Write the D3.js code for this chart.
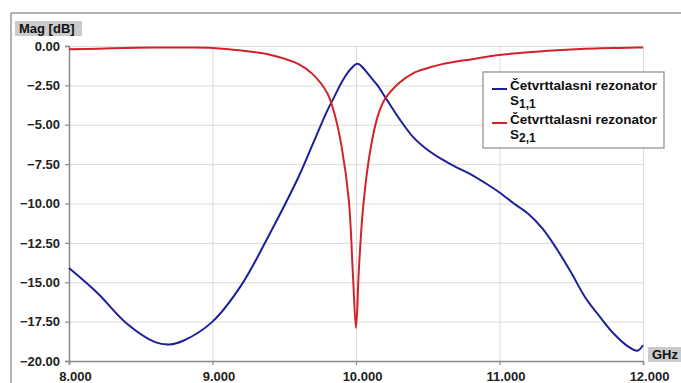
<!DOCTYPE html>
<html>
<head>
    <meta charset="utf-8">
    <title>S parametri - cetvrttalasni rezonator</title>
</head>
<body>
<style type="text/css">
    body {
        margin: 0;
        background: #fff;
    }

    #renderer {
        width: 681px;
        height: 383px;
        background: #FFF;
        display: block;
    }

    text {
        font-family: "Liberation Sans", Arial, sans-serif;
        font-weight: bold;
    }
</style>
<script type="text/javascript" src="https://cdnjs.cloudflare.com/ajax/libs/d3/7.8.5/d3.min.js"></script>
<svg id='renderer'></svg>

<script type="text/javascript">
    // frekvencije (GHz) i izmjereni S parametri (dB), ocitano sa slike
    var freq = [8.0, 8.2, 8.4, 8.6, 8.7, 8.8, 9.0, 9.2, 9.4, 9.6, 9.7, 9.8, 9.85, 9.9, 9.95, 9.98,
        10.0, 10.02, 10.05, 10.1, 10.15, 10.2, 10.3, 10.4, 10.5, 10.6, 10.7, 10.8, 10.9,
        11.0, 11.1, 11.2, 11.3, 11.4, 11.5, 11.6, 11.7, 11.8, 11.9, 11.96, 12.0];

    var s11 = [-14.1, -15.7, -17.6, -18.8, -18.95, -18.7, -17.5, -15.2, -11.9, -8.3, -6.2, -4.1, -3.2, -2.3, -1.6, -1.3,
        -1.15, -1.15, -1.4, -1.95, -2.5, -3.2, -4.6, -5.8, -6.6, -7.2, -7.7, -8.15, -8.7,
        -9.3, -10.0, -10.65, -11.6, -12.9, -14.4, -16.0, -17.2, -18.3, -19.1, -19.35, -19.0];

    var s21 = [-0.2, -0.17, -0.13, -0.1, -0.1, -0.1, -0.12, -0.28, -0.55, -1.15, -1.8, -3.0, -4.3, -6.4, -9.8, -14.8,
        -17.9, -14.2, -10.2, -6.6, -4.5, -3.4, -2.35, -1.72, -1.4, -1.15, -0.98, -0.85, -0.7,
        -0.57, -0.48, -0.4, -0.33, -0.27, -0.22, -0.18, -0.15, -0.13, -0.11, -0.1, -0.1];

    var xTicks = [8, 9, 10, 11, 12];
    var yTicks = [0, -2.5, -5, -7.5, -10, -12.5, -15, -17.5, -20];

    var seriesNames = ['Četvrttalasni rezonator', 'Četvrttalasni rezonator'];
    var seriesSubs = ['1,1', '2,1'];
    var seriesColors = ['#1f1f9e', '#d2232a'];

    var root = d3.select('#renderer');

    var totalWidth = 681;
    var totalHeight = 383;

    // granice podrucja grafa
    var plotLeft = 69;
    var plotRight = 643;
    var plotTop = 46;
    var plotBottom = 361;

    var x = d3.scaleLinear().domain([8, 12]).range([plotLeft, plotRight]);
    var y = d3.scaleLinear().domain([-20, 0]).range([plotBottom, plotTop]);

    // okvir oko cijele slike (gornja i lijeva ivica)
    root.append('line')
        .attr('x1', 11).attr('y1', 13)
        .attr('x2', totalWidth).attr('y2', 13)
        .attr('stroke', '#9a9a9a').attr('stroke-width', 1.5);
    root.append('line')
        .attr('x1', 11).attr('y1', 13)
        .attr('x2', 11).attr('y2', totalHeight)
        .attr('stroke', '#9a9a9a').attr('stroke-width', 1.5);

    // mreza
    root.append('g')
        .attr('transform', 'translate(0,' + plotBottom + ')')
        .call(d3.axisBottom(x).tickValues(xTicks).tickSize(-(plotBottom - plotTop)).tickFormat(''))
        .call(function (g) {
            g.select('.domain').remove();
            g.selectAll('line').attr('stroke', '#dcdcdc');
        });
    root.append('g')
        .attr('transform', 'translate(' + plotLeft + ',0)')
        .call(d3.axisLeft(y).tickValues(yTicks).tickSize(-(plotRight - plotLeft)).tickFormat(''))
        .call(function (g) {
            g.select('.domain').remove();
            g.selectAll('line').attr('stroke', '#dcdcdc');
        });

    // osi
    var yAxis = root.append('g')
        .attr('transform', 'translate(' + plotLeft + ',0)')
        .call(d3.axisLeft(y).tickValues(yTicks).tickSize(4).tickPadding(5).tickFormat(d3.format('.2f')));
    var xAxis = root.append('g')
        .attr('transform', 'translate(0,' + plotBottom + ')')
        .call(d3.axisBottom(x).tickValues(xTicks).tickSize(4).tickPadding(7).tickFormat(d3.format('.3f')));

    [xAxis, yAxis].forEach(function (ax) {
        ax.select('.domain').attr('stroke', '#8a8a8a').attr('stroke-width', 1.5);
        ax.selectAll('.tick line').attr('stroke', '#8a8a8a').attr('stroke-width', 1.2);
        ax.selectAll('text')
            .attr('font-size', 13)
            .attr('font-family', '"Liberation Sans", Arial, sans-serif')
            .attr('font-weight', 'bold')
            .attr('fill', '#222');
    });
    xAxis.selectAll('text').attr('x', 6);

    // natpisi osa na sivoj podlozi
    root.append('rect')
        .attr('x', 15).attr('y', 21)
        .attr('width', 67).attr('height', 15)
        .attr('fill', '#cbcbcb');
    root.append('text')
        .text('Mag [dB]')
        .attr('x', 19).attr('y', 33)
        .attr('font-size', 13)
        .attr('fill', '#111');

    root.append('rect')
        .attr('x', 648).attr('y', 347)
        .attr('width', 33).attr('height', 15)
        .attr('fill', '#cbcbcb');
    root.append('text')
        .text('GHz')
        .attr('x', 652).attr('y', 359)
        .attr('font-size', 13)
        .attr('fill', '#111');

    // krive
    var line = d3.line()
        .x(function (d) { return x(d[0]); })
        .y(function (d) { return y(d[1]); })
        .curve(d3.curveCatmullRom.alpha(0.5));

    var allSeries = [s11, s21];
    for (var i = 0; i < allSeries.length; i++) {
        var pts = freq.map(function (f, j) { return [f, allSeries[i][j]]; });
        root.append('path')
            .datum(pts)
            .attr('d', line)
            .attr('fill', 'none')
            .attr('stroke', seriesColors[i])
            .attr('stroke-width', 2);
    }

    // legenda
    var legend = root.append('g');
    legend.append('rect')
        .attr('x', 483).attr('y', 72)
        .attr('width', 181).attr('height', 76)
        .attr('fill', '#fff')
        .attr('stroke', '#8c8c8c')
        .attr('stroke-width', 1.2);

    for (var k = 0; k < seriesNames.length; k++) {
        var baseY = 90 + k * 34;
        legend.append('line')
            .attr('x1', 492).attr('x2', 507)
            .attr('y1', baseY - 1).attr('y2', baseY - 1)
            .attr('stroke', seriesColors[k])
            .attr('stroke-width', 2);
        legend.append('text')
            .text(seriesNames[k])
            .attr('x', 510).attr('y', baseY)
            .attr('font-size', 13.5)
            .attr('fill', '#111');
        var label = legend.append('text')
            .attr('x', 510).attr('y', baseY + 15)
            .attr('font-size', 13.5)
            .attr('fill', '#111');
        label.append('tspan').text('S');
        label.append('tspan').text(seriesSubs[k])
            .attr('dy', 3)
            .attr('font-size', 12);
    }
</script>
</body>
</html>
